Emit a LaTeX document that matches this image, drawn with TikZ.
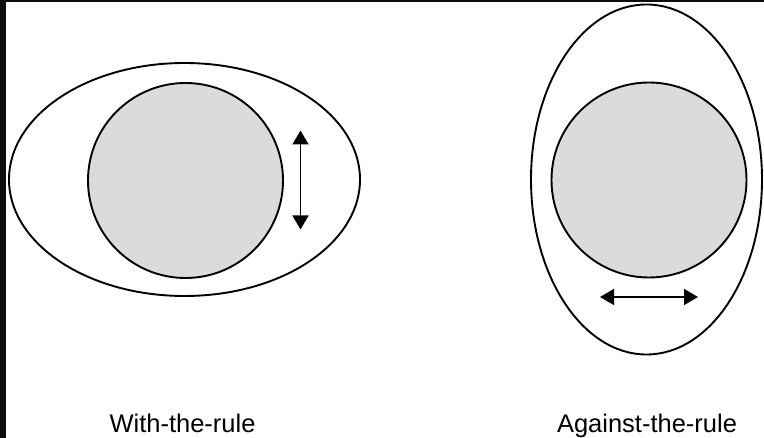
\documentclass[tikz,border=0pt]{standalone}
\usepackage{fontspec}
\setmainfont{Liberation Sans}
\usetikzlibrary{shapes.geometric,arrows.meta}
\definecolor{shade}{gray}{0.86}
\tikzset{
  outerell/.style={ellipse, draw=black, line width=1.9pt, inner sep=0pt, fill=white},
  innercirc/.style={circle, draw=black, line width=1.9pt, inner sep=0pt, fill=shade, minimum size=195pt},
  dblarrow/.style={line width=1.6pt, {Triangle[width=16pt,length=14pt]}-{Triangle[width=16pt,length=14pt]}},
  caption/.style={font=\fontsize{25.5pt}{29pt}\selectfont, anchor=base, inner sep=0pt}
}
\begin{document}
\begin{tikzpicture}[x=1pt,y=-1pt]
\useasboundingbox (0,0) rectangle (764,438);
\fill[white] (0,0) rectangle (764,438);
\fill[black!95] (0,0) rectangle (6,438);
\fill[black!95] (0,0) rectangle (764,2);
% left figure
\node[outerell, minimum width=351pt, minimum height=233pt] (wouter) at (184.5,179.5) {};
\node[innercirc] (wcirc) at (185.5,180.5) {};
\coordinate (wtop) at (300.5,130.5);
\coordinate (wbot) at (300.5,229.5);
\draw[dblarrow] (wtop) -- (wbot);
\node[caption] (wlab) at (182.5,433) {With-the-rule};
% right figure
\node[outerell, minimum width=231pt, minimum height=350pt] (aouter) at (646.5,179.5) {};
\node[innercirc] (acirc) at (649,180) {};
\coordinate (aleft) at (600,297);
\coordinate (aright) at (698,297);
\draw[dblarrow] (aleft) -- (aright);
\node[caption] (alab) at (647,433) {Against-the-rule};
\end{tikzpicture}
\end{document}
